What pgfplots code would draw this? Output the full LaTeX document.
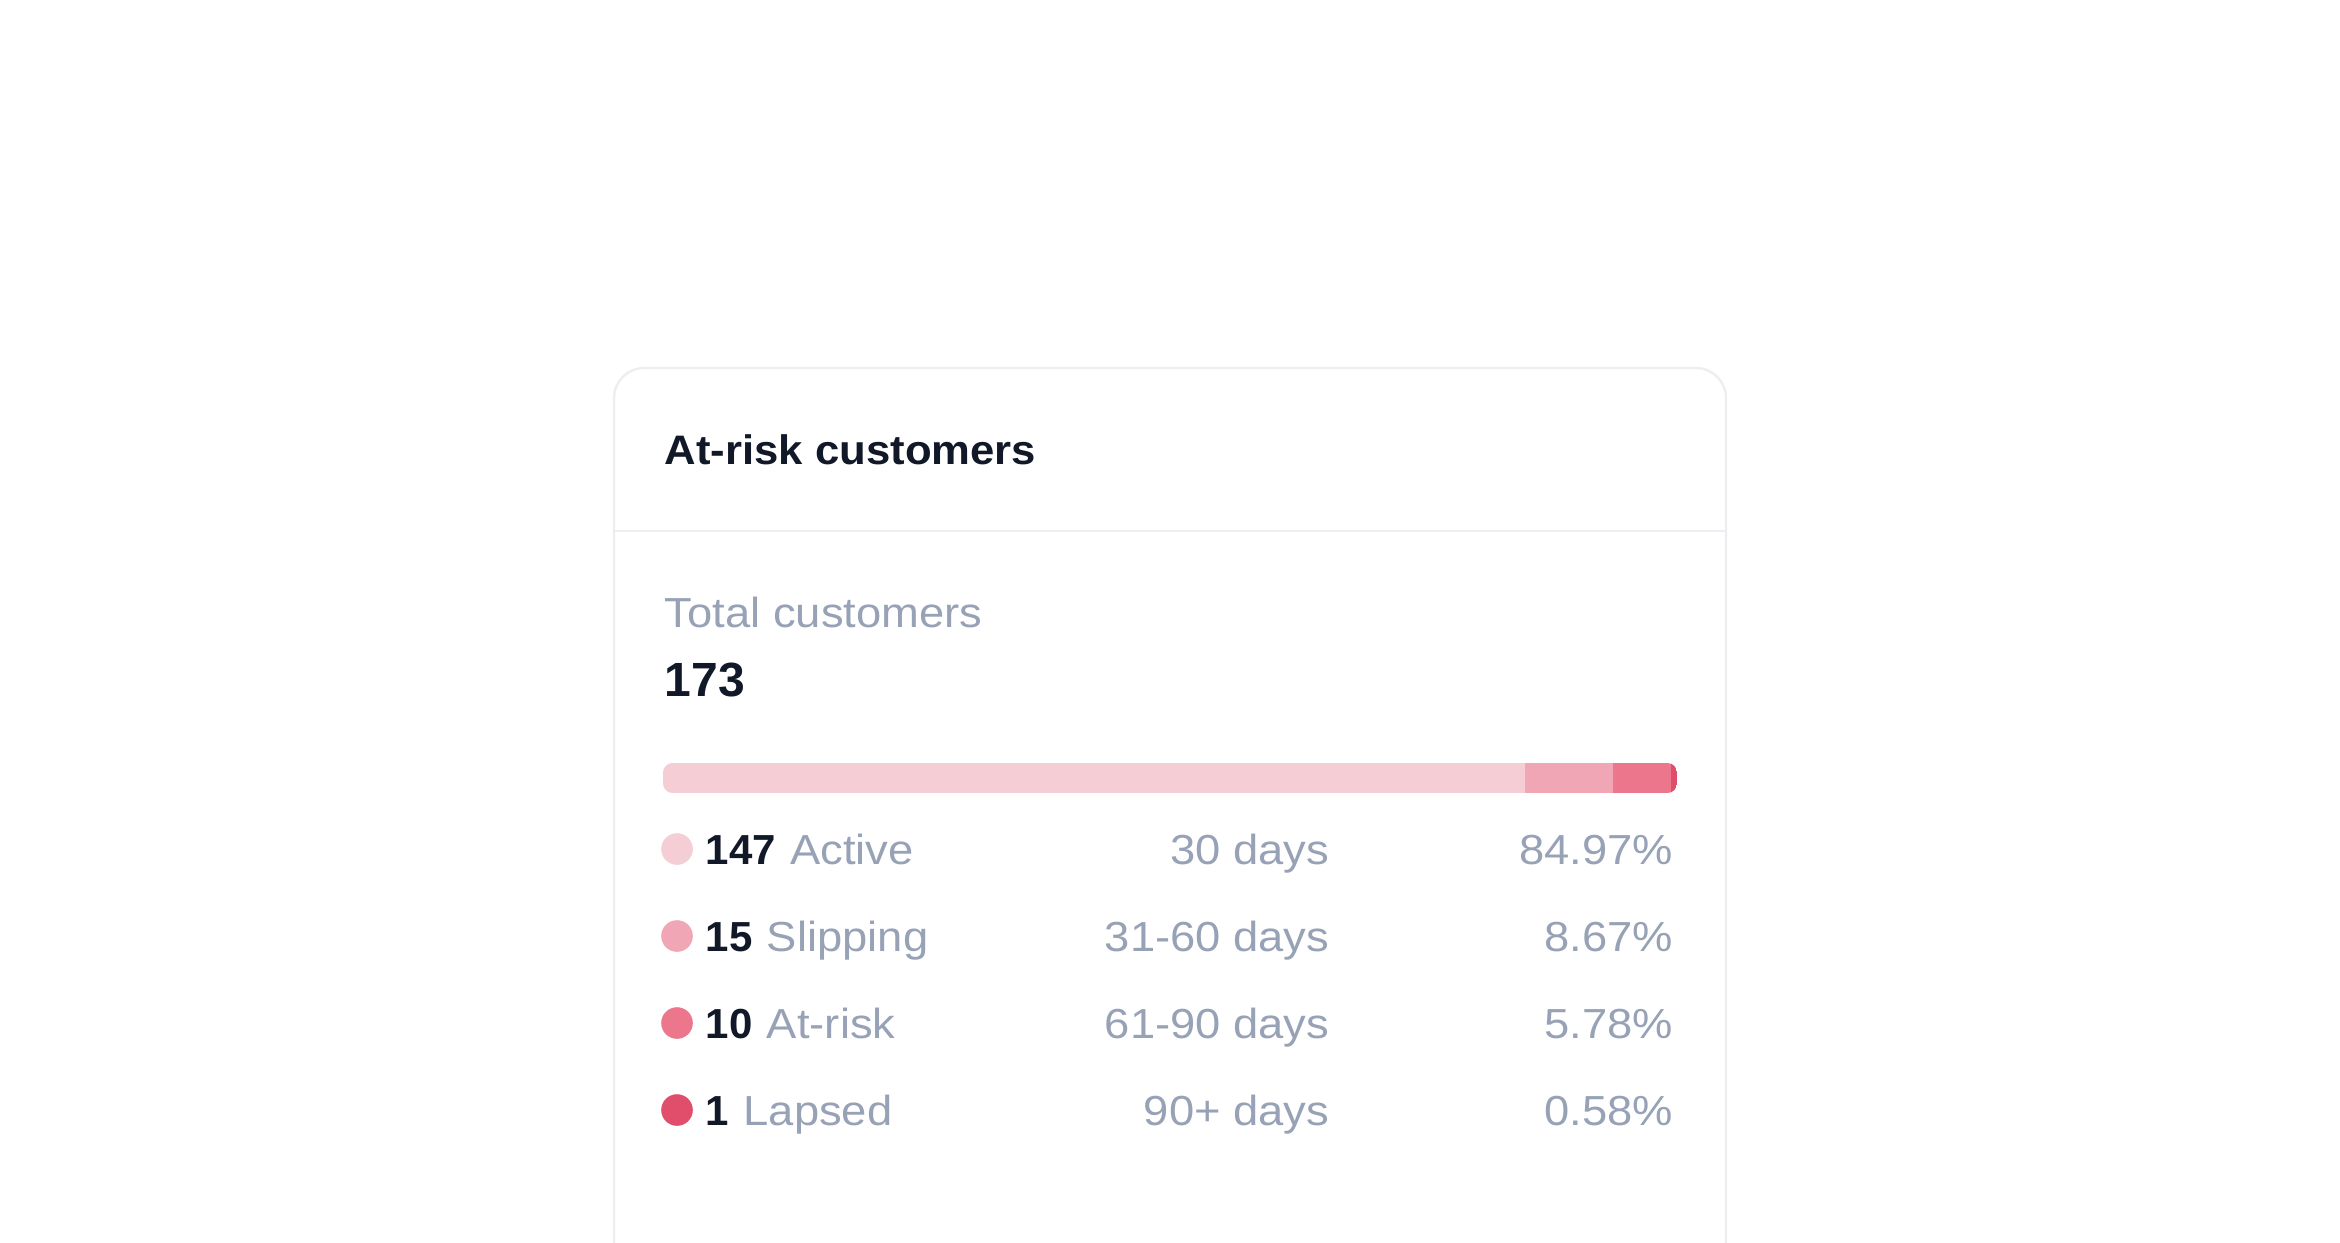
\documentclass[border=0pt]{standalone}
\usepackage{pgfplots}
\pgfplotsset{compat=1.18}
\usepackage{fontspec}
\setmainfont{Liberation Sans}[FakeStretch=1.08, BoldFeatures={FakeStretch=1.0}]
\newfontfamily\titlefont{Liberation Sans}[FakeStretch=1.06]
\definecolor{cActive}{HTML}{F5CDD5}
\definecolor{cSlip}{HTML}{F0A6B4}
\definecolor{cRisk}{HTML}{EC778D}
\definecolor{cLapsed}{HTML}{E04E6C}
\definecolor{dark}{HTML}{111827}
\definecolor{muted}{HTML}{98A2B6}
\definecolor{border}{HTML}{EDEEF1}
\tikzset{
  rowL/.style={anchor=base west, inner sep=0, font=\fontsize{10.5}{12}\selectfont},
  rowR/.style={anchor=base east, inner sep=0, text=muted, font=\fontsize{10.5}{12}\selectfont},
}
\newcommand{\lab}[2]{\textcolor{dark}{\bfseries #1}\hspace{3.6pt}\textcolor{muted}{#2}}
\begin{document}
\begin{tikzpicture}
\path[use as bounding box] (0,0) rectangle (585pt,310.5pt);
\begin{axis}[
  at={(0,0)}, anchor=south west,
  width=585pt, height=310.5pt, scale only axis,
  xmin=0, xmax=2340, ymin=0, ymax=1242, y dir=reverse,
  hide axis, clip=false,
]
% card
\draw[border, line width=0.6pt, fill=white, rounded corners=7.5pt]
  (614,1250) -- (614,368) -- (1726,368) -- (1726,1250);
\draw[border, line width=0.6pt] (614,531) -- (1726,531);
% title
\node[anchor=base west, inner sep=0, text=dark, font=\titlefont\fontsize{10.3}{12}\selectfont\bfseries] at (664,464) {At-risk customers};
\node[anchor=base west, inner sep=0, text=muted, font=\fontsize{10.5}{12}\selectfont] at (664,627) {Total customers};
\node[anchor=base west, inner sep=0, text=dark, font=\fontsize{12}{14}\selectfont\bfseries] at (664,696) {173};
% legend dots
\addplot[only marks, mark=*, mark size=3.75pt, color=cActive] coordinates {(677,849)};
\addplot[only marks, mark=*, mark size=3.75pt, color=cSlip] coordinates {(677,936)};
\addplot[only marks, mark=*, mark size=3.75pt, color=cRisk] coordinates {(677,1023)};
\addplot[only marks, mark=*, mark size=3.75pt, color=cLapsed] coordinates {(677,1110)};
% rows
\node[rowL] at (705,864) {\lab{147}{Active}};
\node[rowR] at (1330,864) {30 days};
\node[rowR] at (1674,864) {84.97\%};
\node[rowL] at (705,951) {\lab{15}{Slipping}};
\node[rowR] at (1330,951) {31-60 days};
\node[rowR] at (1674,951) {8.67\%};
\node[rowL] at (705,1038) {\lab{10}{At-risk}};
\node[rowR] at (1330,1038) {61-90 days};
\node[rowR] at (1674,1038) {5.78\%};
\node[rowL] at (705,1125) {\lab{1}{Lapsed}};
\node[rowR] at (1330,1125) {90+ days};
\node[rowR] at (1674,1125) {0.58\%};
\end{axis}
\begin{scope}
\clip[rounded corners=2.4pt] (165.75pt,112.25pt) rectangle ++(253.5pt,7.5pt);
\begin{axis}[
  at={(165.75pt,112.25pt)}, anchor=south west,
  width=253.5pt, height=7.5pt, scale only axis,
  xmin=0, xmax=173, ymin=-0.5, ymax=0.5,
  hide axis, xbar stacked, bar width=7.5pt,
]
\addplot[fill=cActive, draw=none] coordinates {(147,0)};
\addplot[fill=cSlip, draw=none] coordinates {(15,0)};
\addplot[fill=cRisk, draw=none] coordinates {(10,0)};
\addplot[fill=cLapsed, draw=none] coordinates {(1,0)};
\end{axis}
\end{scope}
\end{tikzpicture}
\end{document}
